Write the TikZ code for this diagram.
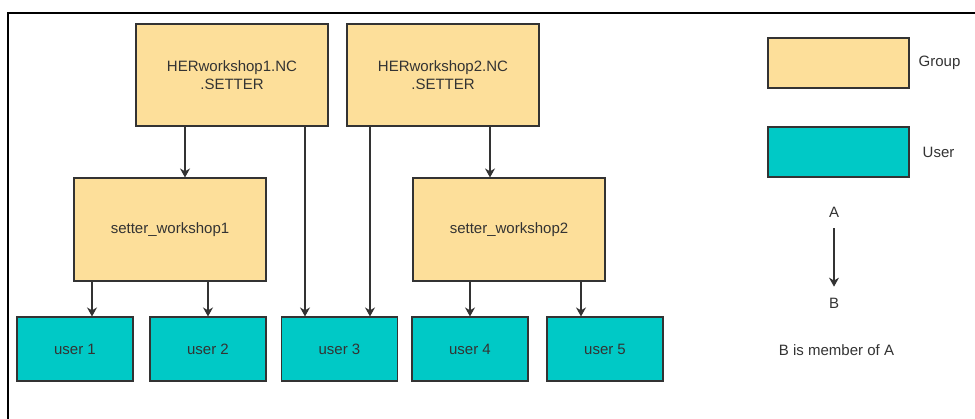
\documentclass[tikz,border=0pt]{standalone}
\usepackage{fontspec}
\setmainfont{Liberation Sans}
\usepackage{tikz}
\usetikzlibrary{arrows.meta, positioning}
\definecolor{groupfill}{RGB}{253,223,154}
\definecolor{userfill}{RGB}{0,201,198}
\definecolor{edgegray}{RGB}{51,51,51}

\begin{document}
\begin{tikzpicture}[
          x=1pt, y=-1pt,
          groupbox/.style={
              draw=edgegray,
              fill=groupfill,
              line width=1.1pt,
              minimum width=192pt,
              minimum height=102pt,
              font=\fontsize{15}{17.5}\selectfont,
              text=edgegray,
              align=center
            },
          userbox/.style={
              draw=edgegray,
              fill=userfill,
              line width=1.1pt,
              minimum width=116pt,
              minimum height=64pt,
              font=\fontsize{15}{17.5}\selectfont,
              text=edgegray,
              align=center
            },
          legendtext/.style={
              inner sep=0pt,
              font=\fontsize{15}{17.5}\selectfont,
              text=edgegray
            },
          arr/.style={-{Stealth[length=9pt, width=10pt]}, edgegray, line width=1.2pt}
        ]
        \useasboundingbox (0,0) rectangle (975,419);
        \fill[white] (0,0) rectangle (975,419);
        \draw[black, line width=2pt] (8,430) -- (8,13) -- (985,13);

        \node[groupbox] (her1) at (232,75) {HERworkshop1.NC\\.SETTER};
        \node[groupbox] (her2) at (443,75) {HERworkshop2.NC\\.SETTER};
        \node[groupbox, minimum height=103pt] (setter1) at (170,229.5) {setter\_workshop1};
        \node[groupbox, minimum height=103pt] (setter2) at (509,229.5) {setter\_workshop2};

        \node[userbox] (user1) at (75,349) {user 1};
        \node[userbox] (user2) at (208,349) {user 2};
        \node[userbox] (user3) at (339.5,349) {user 3};
        \node[userbox] (user4) at (470,349) {user 4};
        \node[userbox] (user5) at (605,349) {user 5};

        \draw[arr] ([xshift=-47pt]her1.south) -- ([xshift=-47pt]her1.south |- setter1.north);
        \draw[arr] ([xshift=73pt]her1.south) -- ([xshift=73pt]her1.south |- user3.north);
        \draw[arr] ([xshift=-73pt]her2.south) -- ([xshift=-73pt]her2.south |- user3.north);
        \draw[arr] ([xshift=47pt]her2.south) -- ([xshift=47pt]her2.south |- setter2.north);

        \draw[arr] ([xshift=-78pt]setter1.south) -- ([xshift=-78pt]setter1.south |- user1.north);
        \draw[arr] (setter1.south -| user2.north) -- (user2.north);
        \draw[arr] (setter2.south -| user4.north) -- (user4.north);
        \draw[arr] ([xshift=72pt]setter2.south) -- ([xshift=72pt]setter2.south |- user5.north);

        \node[groupbox, minimum width=141pt, minimum height=50pt] (lgroup) at (838.5,63) {};
        \node[legendtext] (lgrouptxt) at (939.5,63) {Group};
        \node[userbox, minimum width=141pt, minimum height=50pt] (luser) at (838.5,152) {};
        \node[legendtext] (lusertxt) at (938.5,152) {User};

        \node[legendtext] (la) at (834,212) {A};
        \node[legendtext] (lb) at (834,303) {B};
        \draw[arr, shorten <=11pt, shorten >=11pt] (la) -- (lb);
        \node[legendtext] (lnote) at (836.5,350) {B is member of A};
      \end{tikzpicture}
\end{document}
